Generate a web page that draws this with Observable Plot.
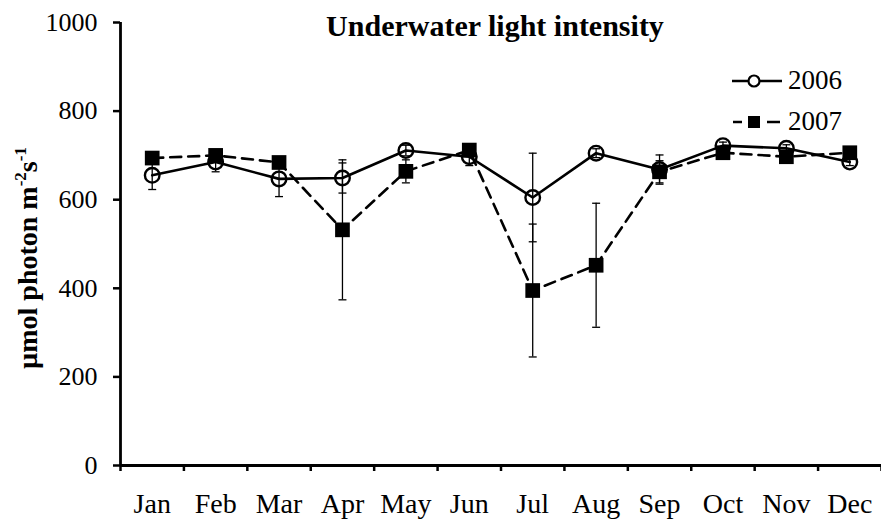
<!DOCTYPE html>
<html>
<head>
<meta charset="utf-8">
<script src="https://cdn.jsdelivr.net/npm/d3@7"></script>
<script src="https://cdn.jsdelivr.net/npm/@observablehq/plot@0.6"></script>
<style>
  html, body { margin: 0; padding: 0; background: #fff; }
  #wrap { position: relative; width: 881px; height: 523px; font-family: "Liberation Serif", "Times New Roman", serif; }
  #title { position: absolute; top: 11px; left: 295px; width: 400px; text-align: center; font-weight: bold; font-size: 30px; line-height: 1; }
  #ylabel { position: absolute; left: 28px; top: 258px; transform: translate(-50%, -50%) rotate(-90deg); white-space: nowrap; font-weight: bold; font-size: 28px; line-height: 1; }
  #ylabel sup { font-size: 17px; vertical-align: 11px; line-height: 0; }
  .leg { position: absolute; left: 730px; display: flex; align-items: center; font-size: 27px; line-height: 1; }
  .leg svg { margin-right: 4px; }
</style>
</head>
<body>
<div id="wrap">
  <div id="chart"></div>
  <div id="title">Underwater light intensity</div>
  <div id="ylabel">µmol photon m<sup>-2</sup>s<sup>-1</sup></div>
  <div class="leg" style="top:67px">
    <svg width="54" height="20"><line x1="2" y1="10" x2="52" y2="10" stroke="#000" stroke-width="2.5"/><circle cx="24" cy="10" r="5.5" fill="#fff" stroke="#000" stroke-width="2.2"/></svg>2006
  </div>
  <div class="leg" style="top:108px">
    <svg width="54" height="20"><line x1="3" y1="10" x2="12" y2="10" stroke="#000" stroke-width="2.5"/><line x1="37" y1="10" x2="50" y2="10" stroke="#000" stroke-width="2.5"/><rect x="18" y="4" width="12" height="12" fill="#000"/></svg>2007
  </div>
</div>
<script>
const months = ["Jan","Feb","Mar","Apr","May","Jun","Jul","Aug","Sep","Oct","Nov","Dec"];
const v2006 = [655, 685, 647, 649, 711, 697, 605, 705, 668, 722, 716, 685];
const e2006 = [32, 22, 40, 34, 12, 20, 100, 10, 33, 8, 8, 8];
const v2007 = [694, 700, 684, 532, 664, 712, 395, 452, 663, 706, 697, 706];
const e2007 = [10, 8, 8, 158, 26, 10, 150, 140, 25, 8, 8, 8];
const yTicks = [0, 200, 400, 600, 800, 1000];

const d06 = months.map((m, i) => ({m, i: i + 0.5, v: v2006[i], e: e2006[i]}));
const d07 = months.map((m, i) => ({m, i: i + 0.5, v: v2007[i], e: e2007[i]}));
const edges = d3.range(0, months.length + 1);
const centers = months.map((m, i) => i + 0.5);

const cap = { draw(ctx, size) { const w = Math.sqrt(size) / 2; ctx.moveTo(-w, 0); ctx.lineTo(w, 0); } };

function errMarks(d) {
  return [
    Plot.ruleX(d, {x: "i", y1: r => r.v - r.e, y2: r => r.v + r.e, stroke: "#000", strokeWidth: 1.3}),
    Plot.dot(d, {x: "i", y: r => r.v - r.e, symbol: cap, r: 4.5, stroke: "#000", strokeWidth: 1.3}),
    Plot.dot(d, {x: "i", y: r => r.v + r.e, symbol: cap, r: 4.5, stroke: "#000", strokeWidth: 1.3})
  ];
}

const chart = Plot.plot({
  width: 881,
  height: 523,
  marginLeft: 120,
  marginRight: 0,
  marginTop: 22,
  marginBottom: 58,
  style: {fontFamily: '"Liberation Serif", "Times New Roman", serif', fontSize: "26px", color: "#000", background: "#fff"},
  x: {domain: [0, months.length], axis: null},
  y: {domain: [0, 1000], axis: null},
  marks: [
    Plot.axisY({ticks: yTicks, tickSize: 7, tickPadding: 16, strokeWidth: 2.5, tickFormat: d => String(d), fontSize: 26, label: null}),
    Plot.axisX({ticks: edges, tickSize: 6, tickFormat: () => "", strokeWidth: 2.5, label: null}),
    Plot.axisX({ticks: centers, tickSize: 0, tickPadding: 28, tickFormat: (d) => months[Math.floor(d)], fontSize: 28, label: null}),
    Plot.ruleX([0], {y1: 0, y2: 1000, strokeWidth: 2.8}),
    Plot.ruleY([0], {strokeWidth: 2.8}),
    ...errMarks(d06),
    ...errMarks(d07),
    Plot.line(d07, {x: "i", y: "v", stroke: "#000", strokeWidth: 2.6, strokeDasharray: "11,7"}),
    Plot.dot(d07, {x: "i", y: "v", symbol: "square", r: 8.3, fill: "#000", stroke: "none"}),
    Plot.line(d06, {x: "i", y: "v", stroke: "#000", strokeWidth: 2.6}),
    Plot.dot(d06, {x: "i", y: "v", symbol: "circle", r: 7.3, fill: "none", stroke: "#000", strokeWidth: 2.4})
  ]
});
document.getElementById("chart").appendChild(chart);
</script>
</body>
</html>
